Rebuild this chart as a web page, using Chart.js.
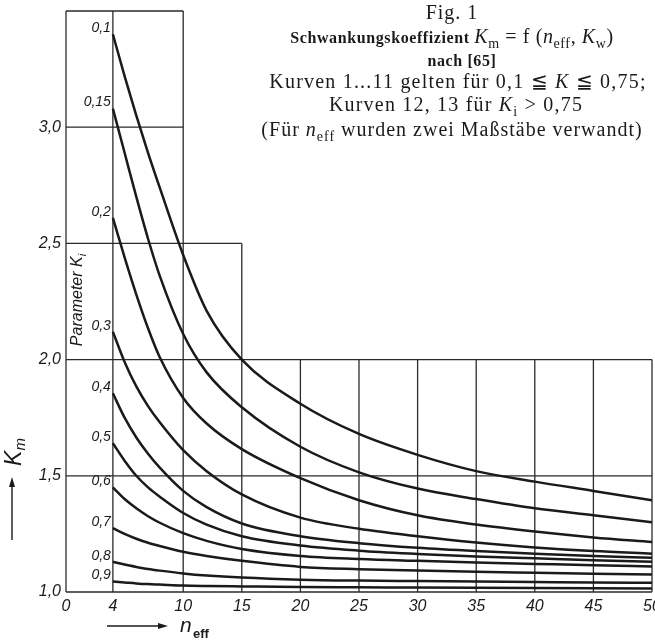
<!DOCTYPE html>
<html>
<head>
<meta charset="utf-8">
<script src="https://cdn.jsdelivr.net/npm/chart.js@4.4.0/dist/chart.umd.min.js"></script>
<style>
  html, body { margin: 0; padding: 0; background: #fff; }
  #wrap { width: 655px; height: 644px; position: relative; }
</style>
</head>
<body>
<div id="wrap"><canvas id="kmChart"></canvas></div>
<script>
const nEff = [4, 5, 6, 7, 8, 10, 12, 15, 20, 25, 30, 35, 40, 45, 50];

// parameter K_i of each curve (label at the curve start)
const kiLabels = ['0,1', '0,15', '0,2', '0,3', '0,4', '0,5', '0,6', '0,7', '0,8', '0,9'];

// K_m values, one array per curve
const km01  = [3.40, 3.22, 3.05, 2.89, 2.74, 2.45, 2.21, 2.00, 1.81, 1.68, 1.59, 1.52, 1.475, 1.435, 1.395];
const km015 = [3.08, 2.89, 2.70, 2.52, 2.36, 2.11, 1.945, 1.795, 1.625, 1.515, 1.445, 1.40, 1.36, 1.33, 1.30];
const km02  = [2.61, 2.44, 2.28, 2.135, 2.01, 1.835, 1.725, 1.615, 1.49, 1.395, 1.33, 1.29, 1.26, 1.235, 1.215];
const km03  = [2.12, 1.99, 1.885, 1.80, 1.73, 1.61, 1.52, 1.42, 1.32, 1.272, 1.24, 1.213, 1.192, 1.176, 1.165];
const km04  = [1.855, 1.75, 1.665, 1.595, 1.535, 1.435, 1.365, 1.295, 1.24, 1.21, 1.19, 1.176, 1.165, 1.155, 1.147];
const km05  = [1.64, 1.565, 1.50, 1.45, 1.41, 1.34, 1.29, 1.24, 1.20, 1.178, 1.164, 1.153, 1.145, 1.137, 1.13];
const km06  = [1.45, 1.40, 1.36, 1.326, 1.298, 1.253, 1.22, 1.185, 1.155, 1.142, 1.134, 1.127, 1.121, 1.115, 1.11];
const km07  = [1.275, 1.25, 1.229, 1.212, 1.198, 1.173, 1.155, 1.134, 1.108, 1.098, 1.092, 1.087, 1.083, 1.079, 1.075];
const km08  = [1.13, 1.118, 1.108, 1.099, 1.092, 1.08, 1.071, 1.062, 1.053, 1.049, 1.047, 1.045, 1.043, 1.041, 1.04];
const km09  = [1.045, 1.041, 1.037, 1.034, 1.032, 1.028, 1.026, 1.024, 1.021, 1.02, 1.019, 1.018, 1.017, 1.016, 1.015];

const curves = [km01, km015, km02, km03, km04, km05, km06, km07, km08, km09];

// stepped grid of the nomogram: [x, yFrom, yTo] and [y, xFrom, xTo]
const gridV = [[0, 1, 3.5], [4, 1, 3.5], [10, 1, 3.5], [15, 1, 2.5], [20, 1, 2], [25, 1, 2],
               [30, 1, 2], [35, 1, 2], [40, 1, 2], [45, 1, 2], [50, 1, 2]];
const gridH = [[1, 0, 50], [1.5, 0, 50], [2, 0, 50], [2.5, 0, 15], [3, 0, 10], [3.5, 0, 10]];

const xTicks = [0, 4, 10, 15, 20, 25, 30, 35, 40, 45, 50];
const yTicks = [1, 1.5, 2, 2.5, 3];

const SERIF = '"Liberation Serif", "DejaVu Serif", serif';
const SANS = '"Liberation Sans", "DejaVu Sans", sans-serif';
const INK = '#1a1a1a';

// draw a row of text pieces centred on cx, baseline y
function drawParts(ctx, parts, cx, y, spacing) {
    ctx.letterSpacing = spacing || '0px';
    let w = 0;
    parts.forEach(p => { ctx.font = p.f; w += ctx.measureText(p.t).width; });
    let x = cx - w / 2;
    parts.forEach(p => {
        ctx.font = p.f;
        ctx.fillText(p.t, x, y + (p.dy || 0));
        x += ctx.measureText(p.t).width;
    });
    ctx.letterSpacing = '0px';
}

function arrow(ctx, x1, y1, x2, y2) {
    const a = Math.atan2(y2 - y1, x2 - x1);
    ctx.beginPath();
    ctx.moveTo(x1, y1);
    ctx.lineTo(x2 - 8 * Math.cos(a), y2 - 8 * Math.sin(a));
    ctx.stroke();
    ctx.beginPath();
    ctx.moveTo(x2, y2);
    ctx.lineTo(x2 - 10 * Math.cos(a) + 3 * Math.sin(a), y2 - 10 * Math.sin(a) - 3 * Math.cos(a));
    ctx.lineTo(x2 - 10 * Math.cos(a) - 3 * Math.sin(a), y2 - 10 * Math.sin(a) + 3 * Math.cos(a));
    ctx.closePath();
    ctx.fill();
}

const nomogramPlugin = {
    id: 'nomogram',
    beforeDatasetsDraw(chart) {
        const ctx = chart.ctx;
        const xs = chart.scales.x, ys = chart.scales.y;
        ctx.save();
        ctx.strokeStyle = '#2a2a2a';
        ctx.lineWidth = 1.3;
        gridV.forEach(([x, y0, y1]) => {
            const px = xs.getPixelForValue(x);
            ctx.beginPath();
            ctx.moveTo(px, ys.getPixelForValue(y0));
            ctx.lineTo(px, ys.getPixelForValue(y1));
            ctx.stroke();
        });
        gridH.forEach(([y, x0, x1]) => {
            const py = ys.getPixelForValue(y);
            ctx.beginPath();
            ctx.moveTo(xs.getPixelForValue(x0), py);
            ctx.lineTo(xs.getPixelForValue(x1), py);
            ctx.stroke();
        });
        ctx.restore();
    },
    afterDatasetsDraw(chart) {
        const ctx = chart.ctx;
        const xs = chart.scales.x, ys = chart.scales.y;
        ctx.save();
        ctx.fillStyle = INK;
        ctx.strokeStyle = INK;

        // curve parameter labels
        ctx.font = `italic 14px ${SANS}`;
        ctx.textAlign = 'right';
        ctx.textBaseline = 'middle';
        curves.forEach((c, i) => {
            ctx.fillText(kiLabels[i], xs.getPixelForValue(nEff[0]) - 2, ys.getPixelForValue(c[0]) - 6);
        });

        // "Parameter K_i" written upwards
        ctx.save();
        ctx.translate(82, 300);
        ctx.rotate(-Math.PI / 2);
        ctx.textAlign = 'left';
        ctx.textBaseline = 'alphabetic';
        drawParts(ctx, [
            { t: 'Parameter K', f: `italic 16px ${SANS}` },
            { t: 'i', f: `italic 11px ${SANS}`, dy: 4 }
        ], 0, 0);
        ctx.restore();

        // y axis title K_m with arrow
        ctx.lineWidth = 1.4;
        arrow(ctx, 12, 540, 12, 477);
        ctx.save();
        ctx.translate(21, 452);
        ctx.rotate(-Math.PI / 2);
        ctx.textAlign = 'left';
        ctx.textBaseline = 'alphabetic';
        drawParts(ctx, [
            { t: 'K', f: `italic 23px ${SANS}` },
            { t: 'm', f: `italic 15px ${SANS}`, dy: 4 }
        ], 0, 0);
        ctx.restore();

        // x axis title n_eff with arrow
        arrow(ctx, 107, 626, 168, 626);
        ctx.textAlign = 'left';
        ctx.textBaseline = 'alphabetic';
        ctx.font = `italic 21px ${SANS}`;
        ctx.fillText('n', 180, 632);
        ctx.font = `bold 13px ${SANS}`;
        ctx.fillText('eff', 193, 638);

        // figure caption, top right
        const cx = 452;
        const big = `20px ${SERIF}`, ital = `italic 20px ${SERIF}`, sub = `14px ${SERIF}`;
        const bold = `bold 16px ${SERIF}`;
        const sp = '1px';
        drawParts(ctx, [{ t: 'Fig. 1', f: big }], cx, 19, sp);
        drawParts(ctx, [
            { t: 'Schwankungskoeffizient ', f: bold },
            { t: 'K', f: ital }, { t: 'm', f: sub, dy: 5 },
            { t: ' = f (', f: big },
            { t: 'n', f: ital }, { t: 'eff', f: sub, dy: 5 },
            { t: ', ', f: big },
            { t: 'K', f: ital }, { t: 'w', f: sub, dy: 5 },
            { t: ')', f: big }
        ], cx, 43, '0.6px');
        drawParts(ctx, [{ t: 'nach [65]', f: bold }], cx + 10, 66, '0.6px');
        drawParts(ctx, [
            { t: 'Kurven 1...11 gelten für 0,1 ≦ ', f: big },
            { t: 'K', f: ital },
            { t: ' ≦ 0,75;', f: big }
        ], cx + 6, 88, '1.2px');
        drawParts(ctx, [
            { t: 'Kurven 12, 13 für ', f: big },
            { t: 'K', f: ital }, { t: 'i', f: sub, dy: 5 },
            { t: ' > 0,75', f: big }
        ], cx + 4, 111, '1.2px');
        drawParts(ctx, [
            { t: '(Für ', f: big },
            { t: 'n', f: ital }, { t: 'eff', f: sub, dy: 5 },
            { t: ' wurden zwei Maßstäbe verwandt)', f: big }
        ], cx, 136, sp);

        ctx.restore();
    }
};

const datasets = curves.map((c, i) => ({
    label: 'K_i = ' + kiLabels[i],
    data: nEff.map((n, j) => ({ x: n, y: c[j] })),
    borderColor: INK,
    borderWidth: 2.5,
    pointRadius: 0,
    fill: false,
    cubicInterpolationMode: 'monotone'
}));

new Chart(document.getElementById('kmChart').getContext('2d'), {
    type: 'line',
    data: { datasets: datasets },
    plugins: [nomogramPlugin],
    options: {
        responsive: true,
        maintainAspectRatio: false,
        animation: false,
        layout: { padding: { top: 11, right: 3, left: 0, bottom: 0 } },
        plugins: {
            legend: { display: false },
            tooltip: { enabled: false }
        },
        scales: {
            x: {
                type: 'linear',
                min: 0,
                max: 50,
                grid: { display: false, drawTicks: false },
                border: { display: false },
                afterBuildTicks: s => { s.ticks = xTicks.map(v => ({ value: v })); },
                afterFit: s => { s.height = 52; s.paddingLeft = 0; s.paddingRight = 0; },
                ticks: {
                    color: INK,
                    padding: 5,
                    maxRotation: 0,
                    autoSkip: false,
                    font: { family: SANS, size: 16, style: 'italic' },
                    callback: v => String(v)
                }
            },
            y: {
                min: 1,
                max: 3.5,
                grid: { display: false, drawTicks: false },
                border: { display: false },
                afterBuildTicks: s => { s.ticks = yTicks.map(v => ({ value: v })); },
                afterFit: s => { s.width = 66; s.paddingTop = 0; s.paddingBottom = 0; },
                ticks: {
                    color: INK,
                    padding: 5,
                    autoSkip: false,
                    font: { family: SANS, size: 16, style: 'italic' },
                    callback: v => v.toFixed(1).replace('.', ',')
                }
            }
        }
    }
});
</script>
</body>
</html>
